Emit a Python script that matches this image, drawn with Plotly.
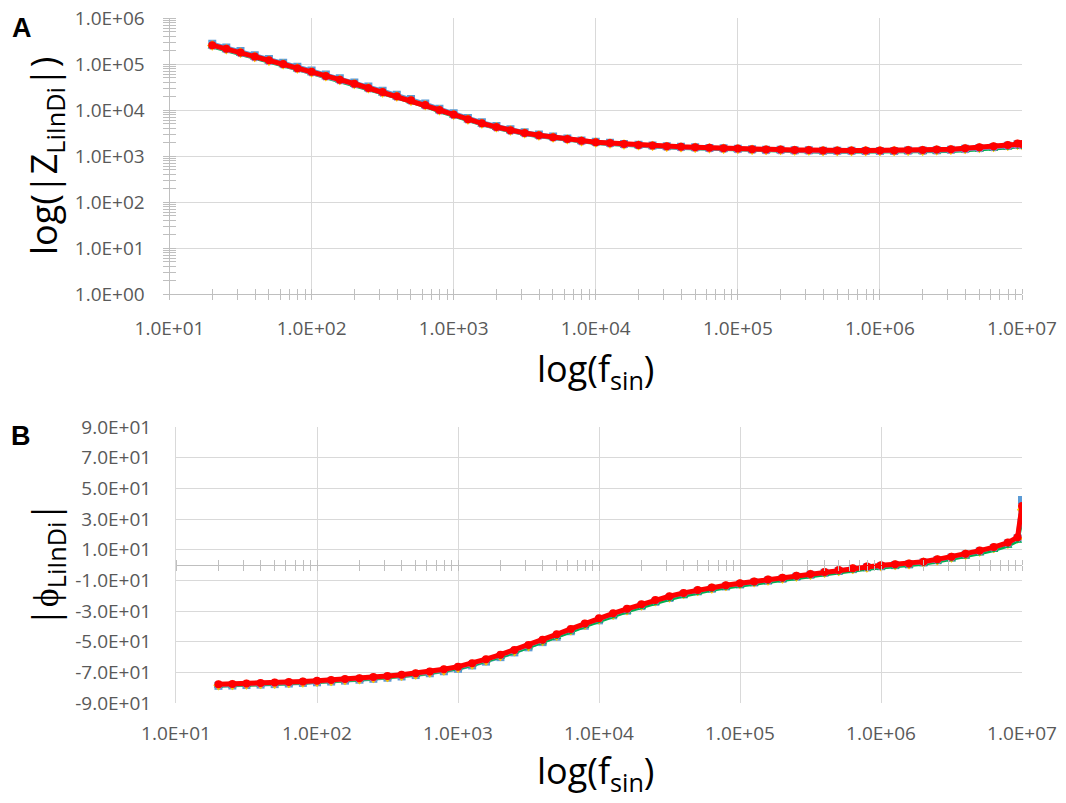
import plotly.graph_objects as go

# ---------------- data ----------------
freq = [20, 25.1, 31.6, 39.8, 50.1, 63.1, 79.4, 100, 126, 158,
        200, 251, 316, 398, 501, 631, 794, 1000, 1260, 1580,
        2000, 2510, 3160, 3980, 5010, 6310, 7940, 1.0e4, 1.26e4, 1.58e4,
        2.0e4, 2.51e4, 3.16e4, 3.98e4, 5.01e4, 6.31e4, 7.94e4, 1.0e5, 1.26e5, 1.58e5,
        2.0e5, 2.51e5, 3.16e5, 3.98e5, 5.01e5, 6.31e5, 7.94e5, 1.0e6, 1.26e6, 1.58e6,
        2.0e6, 2.51e6, 3.16e6, 3.98e6, 5.01e6, 6.31e6, 7.94e6, 9.3e6, 1.0e7]

z_blue = [2.75e5, 2.29e5, 1.91e5, 1.55e5, 1.28e5, 1.07e5, 8.70e4, 7.23e4, 5.88e4, 4.89e4,
          3.98e4, 3.23e4, 2.62e4, 2.14e4, 1.73e4, 1.38e4, 1.07e4, 8.45e3, 6.70e3, 5.43e3,
          4.50e3, 3.80e3, 3.29e3, 2.92e3, 2.64e3, 2.39e3, 2.18e3, 2.03e3, 1.93e3, 1.83e3,
          1.75e3, 1.70e3, 1.62e3, 1.58e3, 1.54e3, 1.50e3, 1.47e3, 1.43e3, 1.40e3, 1.37e3,
          1.36e3, 1.33e3, 1.33e3, 1.30e3, 1.30e3, 1.30e3, 1.29e3, 1.29e3, 1.29e3, 1.31e3,
          1.31e3, 1.34e3, 1.37e3, 1.43e3, 1.50e3, 1.57e3, 1.68e3, 1.80e3, 1.76e3]
z_yellow = [2.52e5, 2.10e5, 1.75e5, 1.42e5, 1.18e5, 9.80e4, 7.97e4, 6.63e4, 5.39e4, 4.48e4,
            3.65e4, 2.96e4, 2.40e4, 1.96e4, 1.59e4, 1.27e4, 9.85e3, 7.82e3, 6.22e3, 5.06e3,
            4.21e3, 3.58e3, 3.12e3, 2.78e3, 2.53e3, 2.30e3, 2.10e3, 1.96e3, 1.87e3, 1.78e3,
            1.70e3, 1.66e3, 1.58e3, 1.54e3, 1.51e3, 1.47e3, 1.44e3, 1.41e3, 1.37e3, 1.34e3,
            1.34e3, 1.31e3, 1.31e3, 1.28e3, 1.28e3, 1.28e3, 1.28e3, 1.28e3, 1.28e3, 1.30e3,
            1.30e3, 1.33e3, 1.36e3, 1.42e3, 1.49e3, 1.56e3, 1.66e3, 1.76e3, 1.72e3]
z_green = [2.40e5, 2.00e5, 1.66e5, 1.35e5, 1.12e5, 9.35e4, 7.60e4, 6.32e4, 5.14e4, 4.27e4,
           3.48e4, 2.82e4, 2.29e4, 1.87e4, 1.52e4, 1.21e4, 9.40e3, 7.48e3, 5.96e3, 4.86e3,
           4.05e3, 3.45e3, 3.01e3, 2.69e3, 2.45e3, 2.23e3, 2.04e3, 1.91e3, 1.82e3, 1.73e3,
           1.66e3, 1.62e3, 1.54e3, 1.50e3, 1.47e3, 1.43e3, 1.40e3, 1.37e3, 1.33e3, 1.30e3,
           1.30e3, 1.27e3, 1.27e3, 1.24e3, 1.24e3, 1.24e3, 1.23e3, 1.23e3, 1.23e3, 1.24e3,
           1.24e3, 1.26e3, 1.28e3, 1.33e3, 1.38e3, 1.44e3, 1.53e3, 1.62e3, 1.58e3]
z_purple = [2.47e5, 2.06e5, 1.71e5, 1.39e5, 1.15e5, 9.60e4, 7.80e4, 6.49e4, 5.28e4, 4.39e4,
            3.57e4, 2.90e4, 2.35e4, 1.92e4, 1.56e4, 1.24e4, 9.65e3, 7.66e3, 6.09e3, 4.95e3,
            4.12e3, 3.51e3, 3.06e3, 2.73e3, 2.49e3, 2.27e3, 2.07e3, 1.94e3, 1.85e3, 1.76e3,
            1.68e3, 1.64e3, 1.56e3, 1.52e3, 1.49e3, 1.45e3, 1.42e3, 1.39e3, 1.35e3, 1.32e3,
            1.32e3, 1.29e3, 1.29e3, 1.26e3, 1.26e3, 1.26e3, 1.26e3, 1.26e3, 1.26e3, 1.28e3,
            1.28e3, 1.31e3, 1.34e3, 1.39e3, 1.45e3, 1.52e3, 1.62e3, 1.72e3, 1.68e3]
z_red = [2.57e5, 2.14e5, 1.78e5, 1.45e5, 1.20e5, 1.00e5, 8.13e4, 6.76e4, 5.50e4, 4.57e4,
         3.72e4, 3.02e4, 2.45e4, 2.00e4, 1.62e4, 1.29e4, 1.00e4, 7.94e3, 6.31e3, 5.13e3,
         4.27e3, 3.63e3, 3.16e3, 2.82e3, 2.57e3, 2.34e3, 2.14e3, 2.00e3, 1.91e3, 1.82e3,
         1.74e3, 1.70e3, 1.62e3, 1.58e3, 1.55e3, 1.51e3, 1.48e3, 1.45e3, 1.41e3, 1.38e3,
         1.38e3, 1.35e3, 1.35e3, 1.32e3, 1.32e3, 1.32e3, 1.32e3, 1.32e3, 1.32e3, 1.35e3,
         1.35e3, 1.38e3, 1.41e3, 1.48e3, 1.55e3, 1.62e3, 1.74e3, 1.86e3, 1.82e3]

ph_blue = [-78.8, -78.6, -78.3, -78.0, -77.7, -77.3, -76.9, -76.5, -76.0, -75.4,
           -74.8, -74.2, -73.5, -72.7, -71.8, -70.6, -69.3, -67.7, -65.5, -63.0,
           -60.1, -57.0, -53.7, -50.3, -46.8, -43.2, -39.6, -36.1, -32.8, -29.8,
           -26.8, -24.0, -21.5, -19.2, -17.2, -15.5, -14.0, -12.7, -11.4, -10.2,
           -9.0, -7.7, -6.4, -5.1, -3.9, -2.7, -1.6, -0.8, -0.1, 0.4,
           1.6, 3.1, 4.8, 6.7, 8.8, 11.1, 14.0, 17.4, 42.4]
ph_yellow = [-78.5, -78.3, -78.0, -77.7, -77.4, -77.0, -76.6, -76.2, -75.7, -75.1,
             -74.5, -73.8, -73.1, -72.3, -71.4, -70.2, -68.8, -67.1, -64.9, -62.3,
             -59.4, -56.3, -53.0, -49.6, -46.1, -42.6, -39.0, -35.6, -32.4, -29.5,
             -26.5, -23.7, -21.2, -19.0, -17.0, -15.3, -13.8, -12.5, -11.3, -10.1,
             -8.9, -7.6, -6.4, -5.1, -3.9, -2.7, -1.6, -0.8, -0.1, 0.4,
             1.6, 3.1, 4.8, 6.7, 8.7, 11.0, 13.9, 17.2, 36.0]
ph_green = [-78.6, -78.4, -78.1, -77.8, -77.5, -77.1, -76.7, -76.3, -75.8, -75.2,
            -74.6, -73.9, -73.2, -72.4, -71.5, -70.3, -68.9, -67.3, -65.1, -62.6,
            -59.8, -56.8, -53.6, -50.3, -46.9, -43.4, -39.8, -36.4, -33.2, -30.3,
            -27.4, -24.7, -22.2, -20.0, -18.0, -16.2, -14.7, -13.4, -12.1, -10.9,
            -9.7, -8.4, -7.2, -5.9, -4.7, -3.5, -2.4, -1.6, -0.9, -0.4,
            0.8, 2.2, 3.8, 5.6, 7.6, 9.8, 12.6, 15.8, 31.0]
ph_purple = [-78.2, -78.0, -77.7, -77.4, -77.1, -76.7, -76.3, -75.9, -75.4, -74.8,
             -74.2, -73.5, -72.8, -72.0, -71.0, -69.8, -68.4, -66.7, -64.4, -61.8,
             -58.9, -55.8, -52.5, -49.1, -45.6, -42.1, -38.5, -35.1, -31.9, -29.0,
             -26.0, -23.3, -20.8, -18.6, -16.7, -15.0, -13.6, -12.3, -11.1, -9.9,
             -8.7, -7.4, -6.2, -4.9, -3.7, -2.5, -1.4, -0.6, 0.1, 0.6,
             1.8, 3.3, 5.0, 6.9, 9.0, 11.3, 14.2, 17.6, 34.0]
ph_red = [-77.8, -77.6, -77.3, -77.0, -76.7, -76.3, -75.9, -75.5, -75.0, -74.4,
          -73.8, -73.1, -72.4, -71.6, -70.6, -69.4, -68.0, -66.3, -64.0, -61.4,
          -58.5, -55.4, -52.1, -48.7, -45.2, -41.7, -38.1, -34.7, -31.5, -28.6,
          -25.6, -22.9, -20.4, -18.2, -16.3, -14.6, -13.2, -11.9, -10.7, -9.5,
          -8.3, -7.0, -5.8, -4.5, -3.3, -2.1, -1.0, -0.2, 0.5, 1.0,
          2.2, 3.7, 5.4, 7.3, 9.4, 11.7, 14.6, 18.1, 38.5]

x_tickvals = [1e1, 1e2, 1e3, 1e4, 1e5, 1e6, 1e7]
x_ticktext = ["1.0E+01", "1.0E+02", "1.0E+03", "1.0E+04", "1.0E+05", "1.0E+06", "1.0E+07"]
za_tickvals = [1e0, 1e1, 1e2, 1e3, 1e4, 1e5, 1e6]
za_ticktext = ["1.0E+00", "1.0E+01", "1.0E+02", "1.0E+03", "1.0E+04", "1.0E+05", "1.0E+06"]
ph_tickvals = [-90, -70, -50, -30, -10, 10, 30, 50, 70, 90]
ph_ticktext = ["-9.0E+01", "-7.0E+01", "-5.0E+01", "-3.0E+01", "-1.0E+01",
               "1.0E+01", "3.0E+01", "5.0E+01", "7.0E+01", "9.0E+01"]

# ---------------- styling ----------------
OFF = 8  # the page body has an 8px margin
W, H = 1066 - OFF, 803 - OFF
TICKFONT = dict(family="Open Sans", size=19, color="#595959")
GRID = "#D9D9D9"
LINE = "#BFBFBF"

def px_x(v):
    return (v - OFF) / W

def px_y(v):
    return 1 - (v - OFF) / H

xa_dom = [px_x(169.5), px_x(1022)]
xb_dom = [px_x(176), px_x(1022)]
ya_dom = [px_y(294), px_y(18)]
yb_dom = [px_y(703), px_y(427)]
zero_pos = (yb_dom[0] + yb_dom[1]) / 2

series = [
    ("blue", "#5B9BD5", "square", 8, 4),
    ("yellow", "#FFC000", "diamond", 8, 4),
    ("green", "#00B050", "triangle-up", 8, 4),
    ("purple", "#9E7BD0", "x", 7, 4),
    ("red", "#FF0000", "circle", 8, 5),
]
zdata = {"blue": z_blue, "yellow": z_yellow, "green": z_green, "purple": z_purple, "red": z_red}
pdata = {"blue": ph_blue, "yellow": ph_yellow, "green": ph_green, "purple": ph_purple, "red": ph_red}

fig = go.Figure()
for name, col, sym, sz, lw in series:
    fig.add_trace(go.Scatter(x=freq, y=zdata[name], mode="lines+markers", name=name,
                             line=dict(color=col, width=lw),
                             marker=dict(color=col, symbol=sym, size=sz, line=dict(width=0)),
                             xaxis="x", yaxis="y", showlegend=False))
for name, col, sym, sz, lw in series:
    fig.add_trace(go.Scatter(x=freq, y=pdata[name], mode="lines+markers", name=name,
                             line=dict(color=col, width=lw),
                             marker=dict(color=col, symbol=sym, size=sz, line=dict(width=0)),
                             xaxis="x2", yaxis="y2", showlegend=False))

# empty helper traces so that the overlay tick axes are created
for xa, ya in [("x3", "y"), ("x", "y3"), ("x4", "y2"), ("x5", "y2")]:
    fig.add_trace(go.Scatter(x=[], y=[], xaxis=xa, yaxis=ya, showlegend=False,
                             hoverinfo="skip", mode="markers"))

def minor(side, ln):
    return dict(dtick="D1", ticks=side, ticklen=ln, tickcolor=LINE, tickwidth=1, showgrid=False)

fig.update_layout(
    width=W, height=H,
    margin=dict(l=0, r=0, t=0, b=0, pad=0, autoexpand=False),
    paper_bgcolor="white", plot_bgcolor="white",
    showlegend=False,
    # panel A
    xaxis=dict(type="log", range=[1, 7], domain=xa_dom, anchor="y", automargin=False,
               tickmode="array", tickvals=x_tickvals, ticktext=x_ticktext,
               tickfont=TICKFONT, showgrid=True, gridcolor=GRID, gridwidth=1,
               showline=True, linecolor=LINE, linewidth=1,
               ticks="outside", ticklen=5, tickcolor=LINE, ticklabeloverflow="allow",
               minor=minor("outside", 5), zeroline=False, ticklabelstandoff=12),
    yaxis=dict(type="log", range=[0, 6], domain=ya_dom, anchor="x", automargin=False,
               tickmode="array", tickvals=za_tickvals, ticktext=za_ticktext,
               tickfont=TICKFONT, showgrid=True, gridcolor=GRID, gridwidth=1,
               showline=True, linecolor=LINE, linewidth=1,
               ticks="outside", ticklen=6, tickcolor=LINE, ticklabeloverflow="allow",
               minor=minor("outside", 6), zeroline=False, ticklabelstandoff=14),
    xaxis3=dict(type="log", range=[1, 7], overlaying="x", anchor="y", side="bottom",
                automargin=False, showgrid=False, showticklabels=False, showline=False,
                tickmode="array", tickvals=x_tickvals, ticks="",
                minor=minor("inside", 5), zeroline=False),
    yaxis3=dict(type="log", range=[0, 6], overlaying="y", anchor="x", side="left",
                automargin=False, showgrid=False, showticklabels=False, showline=False,
                tickmode="array", tickvals=za_tickvals, ticks="",
                minor=minor("inside", 6), zeroline=False),
    # panel B
    xaxis2=dict(type="log", range=[1, 7], domain=xb_dom, anchor="y2", automargin=False,
                tickmode="array", tickvals=x_tickvals, ticktext=x_ticktext,
                tickfont=TICKFONT, showgrid=True, gridcolor=GRID, gridwidth=1,
                ticklabeloverflow="allow",
                showline=False, ticks="", zeroline=False, ticklabelstandoff=17),
    yaxis2=dict(range=[-90, 90], domain=yb_dom, anchor="x2", automargin=False,
                tickmode="array", tickvals=ph_tickvals, ticktext=ph_ticktext,
                tickfont=TICKFONT, showgrid=True, gridcolor=GRID, gridwidth=1,
                ticklabeloverflow="allow",
                showline=True, linecolor=GRID, linewidth=1, ticks="",
                zeroline=True, zerolinecolor=LINE, zerolinewidth=1, ticklabelstandoff=20),
    xaxis4=dict(type="log", range=[1, 7], overlaying="x2", anchor="free", position=zero_pos,
                side="bottom", automargin=False, showgrid=False, showticklabels=False,
                showline=False, tickmode="array", tickvals=x_tickvals,
                ticks="outside", ticklen=5, tickcolor=LINE,
                minor=minor("outside", 5), zeroline=False),
    xaxis5=dict(type="log", range=[1, 7], overlaying="x2", anchor="free", position=zero_pos,
                side="bottom", automargin=False, showgrid=False, showticklabels=False,
                showline=False, tickmode="array", tickvals=x_tickvals, ticks="",
                minor=minor("inside", 5), zeroline=False),
)

TITLE_FONT = dict(family="Open Sans", size=36, color="black")
LABEL_FONT = dict(family="Liberation Sans", size=27, color="black")
ann = [
    dict(text="<b>A</b>", x=px_x(22), y=px_y(28), font=LABEL_FONT),
    dict(text="<b>B</b>", x=px_x(21), y=px_y(436), font=LABEL_FONT),
    dict(text="log(|Z<sub>LiInDi</sub>|)", x=px_x(46), y=px_y(156), textangle=-90, font=TITLE_FONT),
    dict(text="|ϕ<sub>LiInDi</sub>|", x=px_x(46), y=px_y(565), textangle=-90, font=TITLE_FONT),
    dict(text="log(f<sub>sin</sub>)", x=px_x(595), y=px_y(370), font=TITLE_FONT),
    dict(text="log(f<sub>sin</sub>)", x=px_x(595), y=px_y(772), font=TITLE_FONT),
]
for a in ann:
    fig.add_annotation(xref="paper", yref="paper", showarrow=False,
                       xanchor="center", yanchor="middle", **a)

fig.write_html("out.html")
